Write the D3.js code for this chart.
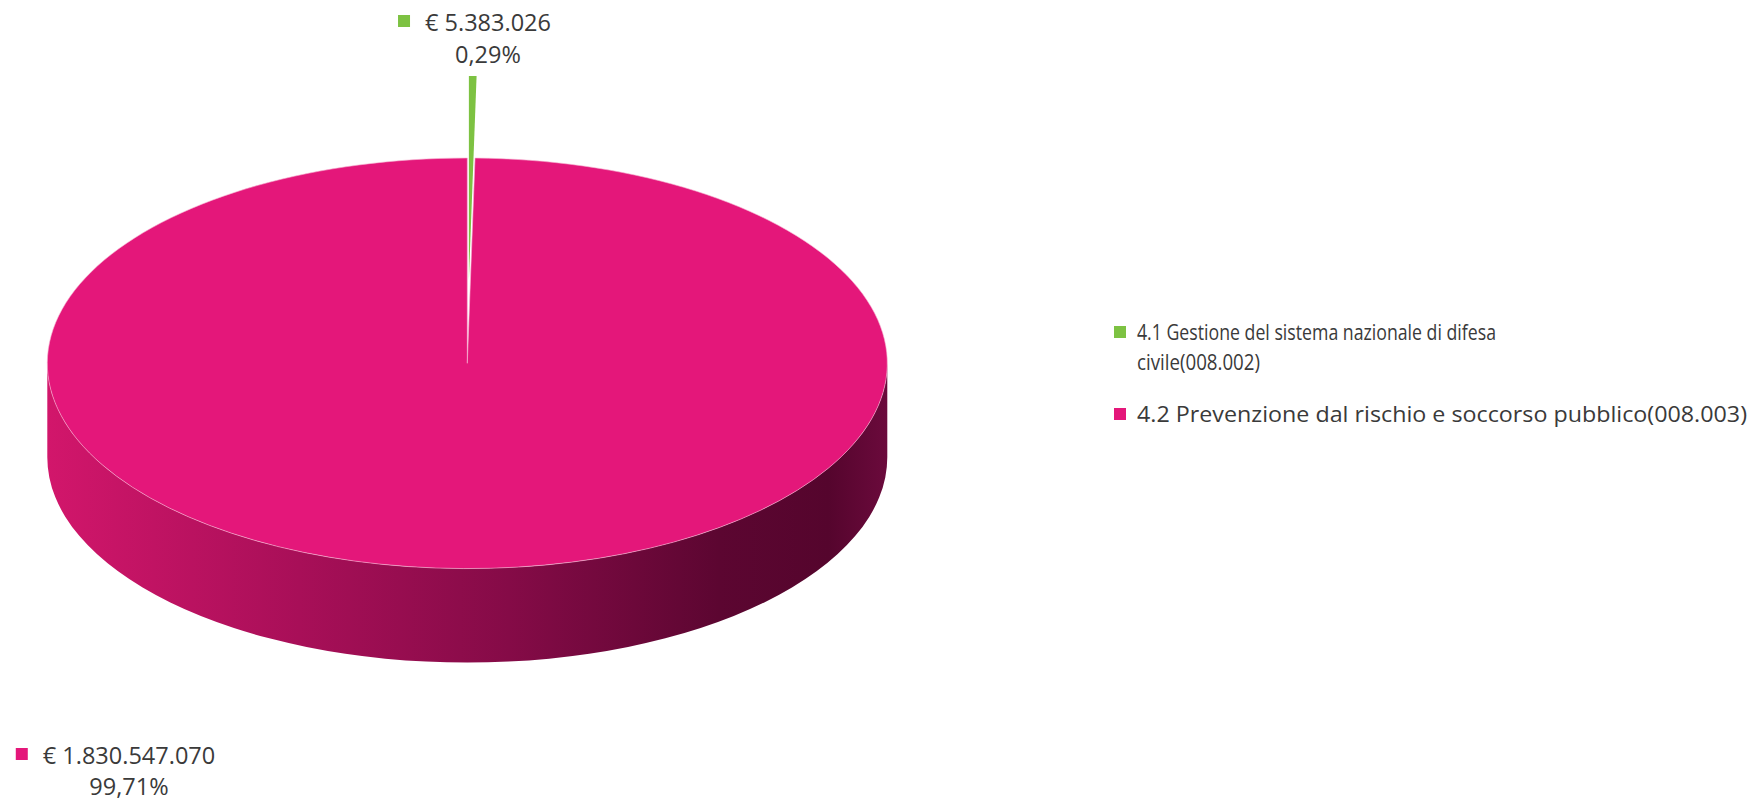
<!DOCTYPE html>
<html>
<head>
<meta charset="utf-8">
<script src="https://cdn.jsdelivr.net/npm/d3@7"></script>
<style>
  html, body { margin: 0; padding: 0; background: #ffffff; }
  svg { display: block; }
  text { font-family: "Open Sans", "Noto Sans", sans-serif; fill: #3a3a3a; }
</style>
</head>
<body>
<svg id="chart" width="1755" height="803"></svg>
<script>
// Programme spending, mission 4 (Soccorso civile)
const categories = [
  "4.1 Gestione del sistema nazionale di difesa civile(008.002)",
  "4.2 Prevenzione dal rischio e soccorso pubblico(008.003)"
];
const legendLines = [
  ["4.1 Gestione del sistema nazionale di difesa", "civile(008.002)"],
  ["4.2 Prevenzione dal rischio e soccorso pubblico(008.003)"]
];
const values = [5383026, 1830547070];
const colors = ["#7dc242", "#e4177a"];
const exploded = [true, false];

// Italian number formatting
const it = d3.formatLocale({ decimal: ",", thousands: ".", grouping: [3], currency: ["€ ", ""] });
const fmtMoney = it.format("$,.0f");
const fmtPct = it.format(".2%");

const svg = d3.select("#chart");

// pie geometry (tilted disc)
const cx = 467.3, cy = 363.3, rx = 420, ry = 205.3, depth = 94;
const explodeFrac = 0.4;

const total = d3.sum(values);
const arcs = d3.pie().sort(null).startAngle(0).endAngle(2 * Math.PI)(values);

// project an angle (clockwise from 12 o'clock) on the tilted ellipse
const px = a => cx + rx * Math.sin(a);
const py = a => cy - ry * Math.cos(a);

function offsetOf(d, i) {
  if (!exploded[i]) return [0, 0];
  const mid = (d.startAngle + d.endAngle) / 2;
  return [Math.sin(mid) * rx * explodeFrac, -Math.cos(mid) * ry * explodeFrac];
}

function topPath(d) {
  const a0 = d.startAngle, a1 = d.endAngle;
  const large = (a1 - a0) > Math.PI ? 1 : 0;
  return `M${cx},${cy}L${px(a0)},${py(a0)}A${rx},${ry} 0 ${large} 1 ${px(a1)},${py(a1)}Z`;
}

// outer wall: only the part facing the viewer (lower half of the ellipse)
function sidePath(d) {
  const a0 = Math.max(d.startAngle, Math.PI / 2);
  const a1 = Math.min(d.endAngle, 3 * Math.PI / 2);
  if (a1 <= a0) return null;
  const large = (a1 - a0) > Math.PI ? 1 : 0;
  return `M${px(a0)},${py(a0)}A${rx},${ry} 0 ${large} 1 ${px(a1)},${py(a1)}` +
         `L${px(a1)},${py(a1) + depth}A${rx},${ry} 0 ${large} 0 ${px(a0)},${py(a0) + depth}Z`;
}

// shading of the side wall, light on the left, dark on the right
const defs = svg.append("defs");
const grad = defs.append("linearGradient")
  .attr("id", "sideShade")
  .attr("gradientUnits", "userSpaceOnUse")
  .attr("x1", cx - rx).attr("y1", 0).attr("x2", cx + rx).attr("y2", 0);
[[0, "#d2166b"], [0.3, "#a80f58"], [0.55, "#850b47"], [0.8, "#5c0631"], [0.93, "#55052d"], [1, "#6b0a3c"]]
  .forEach(([o, c]) => grad.append("stop").attr("offset", o).attr("stop-color", c));

const pieG = svg.append("g").attr("class", "pie");

// back slices first (exploded sliver at the top), then the main slice
const order = arcs.map((d, i) => i).sort((a, b) => (exploded[b] ? 1 : 0) - (exploded[a] ? 1 : 0));
order.forEach(i => {
  const d = arcs[i];
  const [ox, oy] = offsetOf(d, i);
  const g = pieG.append("g").attr("transform", `translate(${ox},${oy})`);
  const sp = sidePath(d);
  if (sp) g.append("path").attr("d", sp).attr("fill", "url(#sideShade)");
  g.append("path").attr("d", topPath(d)).attr("fill", colors[i])
    .attr("stroke", exploded[i] ? "none" : "#f7b3d2").attr("stroke-width", 0.6)
    .attr("stroke-linejoin", "round");
});

// data labels: legend key + value, percentage below
const labelPos = [[488, 31, 32], [129, 764, 31]];
arcs.forEach((d, i) => {
  const [lx, ly, gap] = labelPos[i];
  const g = svg.append("g").attr("class", "data-label");
  const t1 = g.append("text").attr("x", lx).attr("y", ly)
    .attr("text-anchor", "middle").attr("font-size", 23.5)
    .text(fmtMoney(values[i]));
  const w = t1.node().getComputedTextLength();
  g.append("rect")
    .attr("x", lx - w / 2 - 27).attr("y", ly - 16)
    .attr("width", 12).attr("height", 12)
    .attr("fill", colors[i]);
  g.append("text").attr("x", lx).attr("y", ly + gap)
    .attr("text-anchor", "middle").attr("font-size", 23.5)
    .text(fmtPct(values[i] / total));
});

// legend
const legendWidths = [[359, 123], [610]];
const legend = svg.append("g").attr("class", "legend").attr("transform", "translate(1114,0)");
const legendY = [340, 422];
legendLines.forEach((lines, i) => {
  const g = legend.append("g").attr("transform", `translate(0,${legendY[i]})`);
  g.append("rect").attr("x", 0).attr("y", -14).attr("width", 12).attr("height", 12).attr("fill", colors[i]);
  lines.forEach((s, k) => {
    g.append("text").attr("x", 23).attr("y", k * 29.5).attr("font-size", 22)
      .attr("textLength", legendWidths[i][k]).attr("lengthAdjust", "spacingAndGlyphs")
      .text(s);
  });
});
</script>
</body>
</html>
